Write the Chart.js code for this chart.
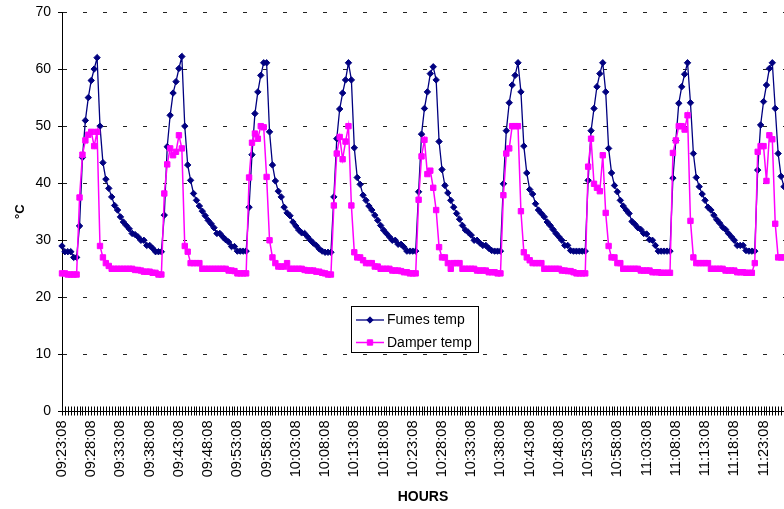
<!DOCTYPE html>
<html>
<head>
<meta charset="utf-8">
<script src="https://cdn.jsdelivr.net/npm/chart.js@4.4.1/dist/chart.umd.min.js"></script>
<style>
  html, body { margin: 0; padding: 0; background: #fff; overflow: hidden; }
  canvas { display: block; }
</style>
</head>
<body>
<canvas id="chart" width="784" height="509"></canvas>
<script>
// Sampling: one reading every 30 seconds starting at 09:23:08
const START_TIME = '09:23:08';
const STEP_SECONDS = 30;
const LABEL_EVERY = 10; // a time label every 5 minutes

// Flue gas temperature (°C), one row per firing cycle
const fumesTemp = [
  29, 28, 28, 28, 27, 27,
  32.5, 44.5, 51, 55, 58, 60, 62,
  50, 43.6, 40.7, 39.1, 37.6, 36.1, 35.3, 34.1, 33.2, 32.6, 32, 31.2, 31, 30.6, 30, 30, 29.1, 29.1, 28.6, 28, 28, 28,

  34.4, 46.4, 51.9, 55.8, 57.8, 60.1, 62.2,
  50, 43.2, 40.5, 38.2, 37, 36, 35.1, 34.3, 33.5, 32.9, 32.2, 31.2, 31.2, 30.6, 30.1, 29.7, 28.9, 28.9, 28.1, 28.1, 28.1, 28.1,

  35.8, 45, 52.2, 56, 58.9, 61.1, 61.1,
  49, 43.2, 40.4, 38.6, 37.6, 35.8, 34.8, 34.3, 33.2, 32.5, 31.8, 31.3, 31.2, 30.6, 30, 29.5, 29.1, 28.5, 28.1, 27.9, 27.9, 27.9,

  37.6, 47.8, 53, 55.8, 58.1, 61.1,
  58.1, 46.2, 41, 39.8, 37.9, 37, 36, 35.3, 34.4, 33.5, 32.6, 31.8, 31.2, 30.6, 30, 30, 29.3, 29.3, 28.8, 28.1, 28.1, 28.1, 28.1,

  38.5, 48.6, 53.1, 56, 59.2, 60.4,
  58.1, 47.3, 42.4, 39.6, 38.3, 37, 35.8, 34.7, 33.7, 32.6, 31.8, 31.4, 30.9, 30, 30, 29.5, 29.1, 29.1, 28.6, 28.2, 28.1, 28.1, 28.1,

  39.9, 49.2, 54.1, 57.2, 58.9, 61.1,
  56, 46.5, 41.8, 38.9, 38.1, 36.4, 35.3, 34.7, 34.1, 33.2, 32.6, 31.9, 31.2, 30.6, 30, 29.1, 29.1, 28.2, 28.1, 28.1, 28.1, 28.1, 28.1,

  40.5, 49.2, 53.1, 56.9, 59.2, 61.1,
  56, 46.1, 41.8, 39.6, 38.5, 37, 36, 35.3, 34.7, 33.3, 32.8, 32.2, 31.9, 31.2, 31.1, 30.1, 30, 29.1, 28.1, 28.1, 28.1, 28.1, 28.1,

  40.9, 47.5, 54, 56.9, 59.1, 61.1,
  54.1, 45.2, 41, 39.4, 38.1, 37, 35.8, 35.3, 34.4, 33.6, 33, 32.3, 31.9, 31.2, 30.6, 30, 29.1, 29.1, 29.1, 28.2, 28.1, 28.1, 28.1,

  42.3, 50.2, 54.3, 57.2, 60.1, 61.1,
  53.1, 45.2, 41.2, 39.4
];

// Damper temperature (°C), same sampling
const damperTemp = [
  24.2, 24.2, 24, 24, 24, 24,
  37.5, 45, 47.5, 48.5, 49, 46.5, 49,
  29, 27, 26, 25.5, 25, 25, 25, 25, 25, 25, 25, 25, 24.8, 24.8, 24.7, 24.5, 24.5, 24.5, 24.3, 24.3, 24, 24,

  38.2, 43.3, 46.1, 44.9, 45.5, 48.4, 46.1,
  29, 28, 26, 26, 26, 26, 25, 25, 25, 25, 25, 25, 25, 25, 25, 24.7, 24.7, 24.6, 24.2, 24.2, 24.2, 24.2,

  41, 47.1, 48.7, 47.8, 50, 49.8, 41.1,
  30, 27, 26, 25.4, 25.4, 25.4, 26, 25, 25, 25, 25, 25, 24.8, 24.7, 24.7, 24.7, 24.5, 24.5, 24.3, 24.2, 24, 24,

  36.1, 45.2, 48.1, 44.2, 47.3, 50,
  36.1, 27.9, 27, 27, 26.5, 26, 26, 26, 25.4, 25.4, 25, 25, 25, 25, 24.7, 24.7, 24.7, 24.6, 24.4, 24.4, 24.2, 24.2, 24.2,

  37.1, 44.7, 47.6, 41.6, 42.2, 39.2,
  35.3, 28.8, 27, 27, 26, 25, 26, 26, 26, 25, 25, 25, 25, 25, 24.7, 24.7, 24.7, 24.7, 24.4, 24.4, 24.4, 24.2, 24.2,

  37.9, 45.2, 46.1, 50, 50, 50,
  35.1, 27.9, 27, 26.5, 26, 26, 26, 26, 25, 25, 25, 25, 25, 25, 24.7, 24.7, 24.6, 24.6, 24.4, 24.2, 24.2, 24.2, 24.2,

  42.9, 47.8, 39.9, 39.2, 38.6, 44.9,
  34.8, 29, 27, 27, 26, 26, 25, 25, 25, 25, 25, 25, 24.7, 24.7, 24.7, 24.7, 24.4, 24.4, 24.4, 24.3, 24.3, 24.3, 24.3,

  45.3, 47.5, 50, 50, 49.4, 51.9,
  33.4, 27, 26, 26, 26, 26, 26, 25, 25, 25, 25, 25, 24.7, 24.7, 24.7, 24.7, 24.4, 24.4, 24.4, 24.3, 24.3, 24.3, 26,

  45.5, 46.5, 46.5, 40.4, 48.4, 47.7,
  32.9, 27, 27, 27
];

const yAxisMin = 0;
const yAxisMax = 70;
const yAxisStep = 10;

// Clock-time category labels for each sample
function buildTimeLabels(start, stepSec, count) {
  const [h, m, s] = start.split(':').map(Number);
  const base = h * 3600 + m * 60 + s;
  const pad = n => String(n).padStart(2, '0');
  const out = [];
  for (let i = 0; i < count; i++) {
    const t = base + i * stepSec;
    out.push(pad(Math.floor(t / 3600)) + ':' + pad(Math.floor(t / 60) % 60) + ':' + pad(t % 60));
  }
  return out;
}
const timeLabels = buildTimeLabels(START_TIME, STEP_SECONDS, fumesTemp.length);

const FONT = '"Liberation Sans", Arial, Helvetica, sans-serif';
Chart.defaults.font.family = FONT;
Chart.defaults.color = '#000';

// Short tick marks crossing the category axis at every sample
const crossTicks = {
  id: 'crossTicks',
  beforeDatasetsDraw(chart) {
    const scale = chart.scales.x;
    const ctx = chart.ctx;
    const y = Math.round(scale.top) + 0.5;
    ctx.save();
    ctx.strokeStyle = '#000';
    ctx.lineWidth = 1;
    ctx.beginPath();
    for (let i = 0; i < scale.ticks.length; i++) {
      const x = Math.round(scale.getPixelForTick(i)) + 0.5;
      ctx.moveTo(x, y - 6);
      ctx.lineTo(x, y + 3);
    }
    ctx.stroke();
    ctx.restore();
  }
};

// Boxed legend placed inside the plot
const boxLegend = {
  id: 'boxLegend',
  afterDraw(chart) {
    const ctx = chart.ctx;
    const x0 = 351.5, y0 = 306.5, w = 127, h = 46;
    ctx.save();
    ctx.fillStyle = '#fff';
    ctx.fillRect(x0, y0, w, h);
    ctx.strokeStyle = '#000';
    ctx.lineWidth = 1;
    ctx.strokeRect(x0, y0, w, h);
    chart.data.datasets.forEach((ds, i) => {
      const cy = 320 + i * 22.5;
      ctx.strokeStyle = ds.borderColor;
      ctx.lineWidth = ds.borderWidth;
      ctx.beginPath();
      ctx.moveTo(356, cy);
      ctx.lineTo(384, cy);
      ctx.stroke();
      ctx.fillStyle = ds.pointBackgroundColor;
      ctx.strokeStyle = ds.pointBorderColor;
      ctx.lineWidth = ds.pointBorderWidth;
      Chart.helpers.drawPoint(ctx, {
        pointStyle: ds.pointStyle,
        radius: ds.pointRadius,
        borderWidth: ds.pointBorderWidth,
        rotation: 0
      }, 370, cy);
      ctx.fillStyle = '#000';
      ctx.font = '14px ' + FONT;
      ctx.textBaseline = 'middle';
      ctx.textAlign = 'left';
      ctx.fillText(ds.label, 387, cy + 0.5);
    });
    ctx.restore();
  }
};

new Chart(document.getElementById('chart'), {
  type: 'line',
  data: {
    labels: timeLabels,
    datasets: [
      {
        label: 'Fumes temp',
        data: fumesTemp,
        borderColor: '#000080',
        backgroundColor: '#000080',
        borderWidth: 1.3,
        pointStyle: 'rectRot',
        pointRadius: 3.2,
        pointBackgroundColor: '#000080',
        pointBorderColor: '#000080',
        pointBorderWidth: 1,
        tension: 0,
        clip: false,
        order: 1
      },
      {
        label: 'Damper temp',
        data: damperTemp,
        borderColor: '#FF00FF',
        backgroundColor: '#FF00FF',
        borderWidth: 1.5,
        pointStyle: 'rect',
        pointRadius: 3.8,
        pointBackgroundColor: '#FF00FF',
        pointBorderColor: '#FF00FF',
        pointBorderWidth: 1,
        tension: 0,
        clip: false,
        order: 0
      }
    ]
  },
  options: {
    responsive: false,
    animation: false,
    devicePixelRatio: 1,
    layout: { autoPadding: false, padding: { top: 12, right: 0, bottom: 0, left: 0 } },
    plugins: {
      legend: { display: false },
      tooltip: { enabled: false }
    },
    scales: {
      x: {
        type: 'category',
        offset: false,
        grid: { display: false, drawTicks: false },
        border: { display: true, color: '#000', width: 1 },
        ticks: {
          autoSkip: false,
          minRotation: 90,
          maxRotation: 90,
          padding: 9,
          font: { size: 14.6 },
          color: '#000',
          callback: (v, i) => (i % LABEL_EVERY === 0 ? timeLabels[i] : '')
        },
        title: {
          display: true,
          text: 'HOURS',
          font: { size: 14, weight: 'bold' },
          color: '#000',
          padding: { top: 0, bottom: 3 }
        },
        afterFit: s => {
          s.height = 97.5;
          s.paddingLeft = 0;
          s.paddingRight = 0;
        }
      },
      y: {
        min: yAxisMin,
        max: yAxisMax,
        ticks: {
          stepSize: yAxisStep,
          padding: 7,
          font: { size: 14 },
          color: '#000'
        },
        grid: {
          color: c => (c.tick && c.tick.value === 0 ? 'rgba(0,0,0,0)' : '#222'),
          lineWidth: 1,
          drawTicks: true,
          tickLength: 4,
          tickColor: '#000',
          tickBorderDash: []
        },
        border: { display: true, color: '#000', width: 1, dash: [4, 16] },
        title: {
          display: true,
          text: '°C',
          font: { size: 13, weight: 'bold' },
          color: '#000',
          padding: { top: 13, bottom: 0 }
        },
        afterFit: s => {
          s.width = 62;
          s.paddingTop = 0;
          s.paddingBottom = 0;
        }
      }
    }
  },
  plugins: [crossTicks, boxLegend]
});
</script>
</body>
</html>
